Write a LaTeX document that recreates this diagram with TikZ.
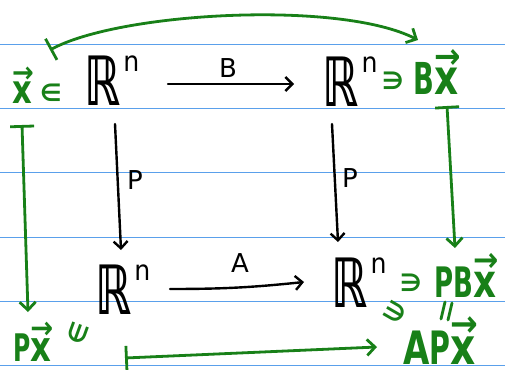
\documentclass[tikz,border=0pt]{standalone}
\usepackage{fontspec}
\setmainfont{DejaVu Sans}
\usetikzlibrary{arrows.meta}
\definecolor{hgreen}{RGB}{24,128,24}
\definecolor{rule}{RGB}{90,160,235}
\newcommand{\RRn}{\scalebox{0.66}[1]{\fontsize{68}{68}\selectfont\bfseries ℝ}\hspace{3pt}\raisebox{34pt}{\scalebox{0.9}[1]{\fontsize{28}{28}\selectfont n}}}
\newcommand{\nb}[1]{\scalebox{0.62}[1]{#1}}
\newcommand{\vx}{\leavevmode\rlap{\raisebox{0.6em}{\scalebox{0.72}[0.8]{→}}}\scalebox{0.85}[1.1]{x}}
\tikzset{
  bbsp/.style={inner sep=0pt},
  lbl/.style={inner sep=0pt, font=\fontsize{26}{26}\selectfont},
  gtxt/.style={inner sep=0pt, anchor=base west, text=hgreen},
  gsym/.style={inner sep=0pt, text=hgreen, font=\fontsize{24}{24}\selectfont\bfseries},
  harrow/.style={line width=2.4pt, line cap=round, -{Straight Barb[length=7pt,width=14pt,line width=2.4pt]}},
  gline/.style={line width=2.8pt, draw=hgreen, line cap=round},
  gmap/.style={gline, {Bar[width=24pt,line width=2.8pt]}-{Straight Barb[length=8pt,width=16pt,line width=2.8pt]}},
  rulestyle/.style={draw=rule, line width=1pt}
}
\begin{document}
\begin{tikzpicture}[x=1pt,y=1pt]
\useasboundingbox (0,-371) rectangle (505,0);
\fill[white] (0,-371) rectangle (505,0);
% ruled lines
\foreach \yy in {45,109,173,237,301,365} \draw[rulestyle] (0,-\yy) -- (505,-\yy);

% black diagram
\node[bbsp] (tl) at (112,-81) {\RRn};
\node[bbsp] (tr) at (350,-82) {\RRn};
\node[bbsp] (bl) at (123,-290) {\RRn};
\node[bbsp] (br) at (359,-283) {\RRn};

\coordinate (b1) at (168,-84); \coordinate (b2) at (294,-84);
\draw[harrow] (b1) -- (b2);
\node[lbl] (lb) at (228,-68) {B};

\coordinate (a1) at (170,-289); \coordinate (a2) at (304,-282);
\draw[harrow] (a1) to[bend right=3] (a2);
\node[lbl] (la) at (240,-263) {A};

\coordinate (p1) at (115,-124); \coordinate (p2) at (121,-250);
\draw[harrow] (p1) -- (p2);
\node[lbl] (lp1) at (135,-180) {P};
\coordinate (q1) at (332,-124); \coordinate (q2) at (338,-242);
\draw[harrow] (q1) -- (q2);
\node[lbl] (lp2) at (350,-178) {P};

% green annotations
\node[gtxt, font=\fontsize{36}{36}\selectfont\bfseries] (x) at (12,-104) {\vx};
\node[gsym] (in1) at (51,-93) {∈};
\node[gsym] (ni1) at (393,-81) {∋};
\node[gtxt, font=\fontsize{44}{44}\selectfont\bfseries] (bx) at (413,-95) {\nb{B}\vx};

\coordinate (t1) at (50,-50); \coordinate (t2) at (418,-40);
\draw[gmap] (t1) .. controls (120,-12) and (340,0) .. (t2);

\coordinate (l1) at (22,-125); \coordinate (l2) at (28,-312);
\draw[gmap] (l1) -- (l2);
\coordinate (r1) at (447,-106); \coordinate (r2) at (455,-248);
\draw[gmap] (r1) -- (r2);

\node[gtxt, font=\fontsize{38}{38}\selectfont\bfseries] (px) at (13,-361) {\nb{P}\vx};
\node[gsym, rotate=70] (in2) at (78,-333) {∈};

\coordinate (m1) at (125,-358); \coordinate (m2) at (377,-347);
\draw[gmap] (m1) -- (m2);

\node[gsym, rotate=-30] (ni2) at (395,-312) {∋};
\node[gsym] (ni3) at (411,-283) {∋};
\node[gtxt, font=\fontsize{42}{42}\selectfont\bfseries] (pbx) at (434,-297) {\nb{P}\nb{B}\vx};
\coordinate (e1) at (441,-319); \coordinate (e2) at (445,-302);
\coordinate (e3) at (448,-320); \coordinate (e4) at (452,-303);
\draw[gline] (e1) -- (e2) (e3) -- (e4);
\node[gtxt, font=\fontsize{46}{46}\selectfont\bfseries] (apx) at (403,-364) {\scalebox{0.74}[1]{A}\nb{P}\vx};
\end{tikzpicture}
\end{document}
